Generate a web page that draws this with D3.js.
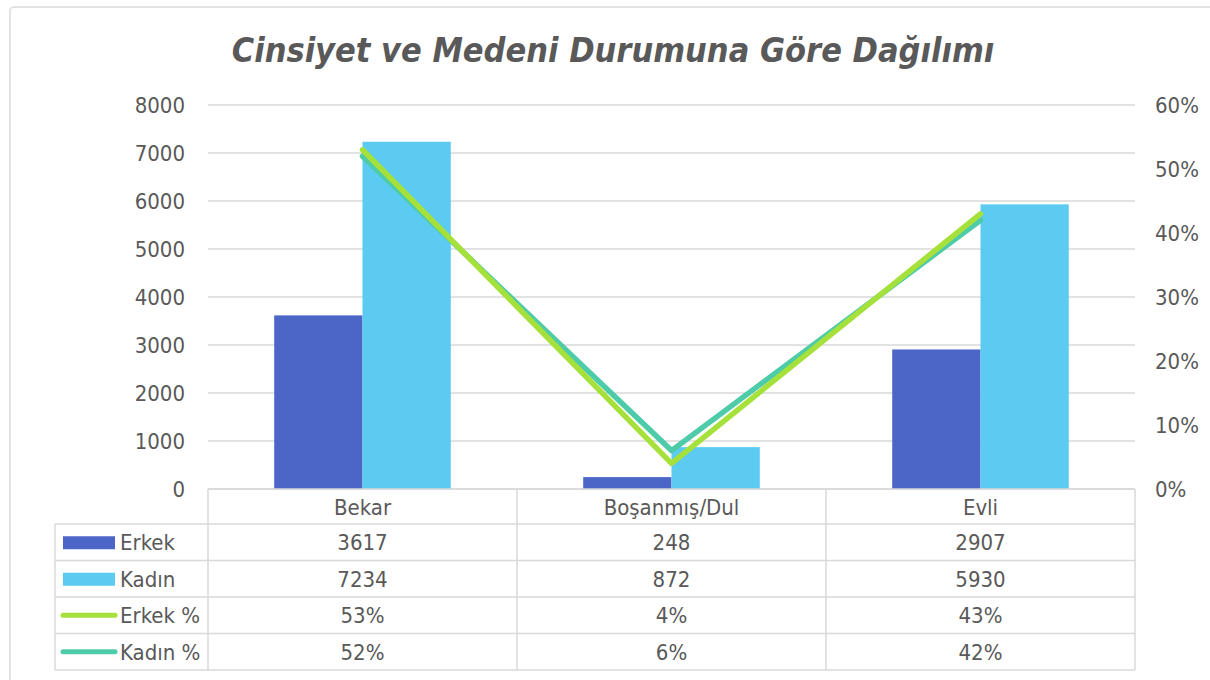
<!DOCTYPE html>
<html>
<head>
<meta charset="utf-8">
<script src="https://cdn.jsdelivr.net/npm/d3@7"></script>
<style>
  body { margin: 0; background: #fff; }
  text { font-family: "DejaVu Sans Condensed", "DejaVu Sans", sans-serif; fill: #595959; }
</style>
</head>
<body>
<div id="chart"></div>
<script>
// chart data
let categories = ['Bekar', 'Boşanmış/Dul', 'Evli'];
let erkek = [3617, 248, 2907];
let kadin = [7234, 872, 5930];
let erkekPct = [0.53, 0.04, 0.43];
let kadinPct = [0.52, 0.06, 0.42];
let countTicks = [0, 1000, 2000, 3000, 4000, 5000, 6000, 7000, 8000];
let pctTicks = [0, 0.1, 0.2, 0.3, 0.4, 0.5, 0.6];
let seriesNames = ['Erkek', 'Kadın', 'Erkek %', 'Kadın %'];

let colors = {'Erkek': '#4c66c8', 'Kadın': '#5bcbf1', 'Erkek %': '#a6e03a', 'Kadın %': '#4ecba8'};

let W = 1210, H = 680;
let margin = {top: 105, right: 75, bottom: 191, left: 208};
let width = W - margin.left - margin.right;
let height = H - margin.top - margin.bottom;
let fontSize = '22px';

let svg = d3.select('#chart')
            .append('svg')
            .attr('width', W)
            .attr('height', H);

// outer frame
svg.append('rect')
    .attr('x', 10).attr('y', 7)
    .attr('width', W + 20).attr('height', H + 20)
    .attr('rx', 4)
    .attr('fill', 'none')
    .attr('stroke', '#e3e3e3')
    .attr('stroke-width', 2);

// title
svg.append('text')
    .attr('x', 613)
    .attr('y', 62)
    .style('text-anchor', 'middle')
    .style('font-size', '34px')
    .style('font-weight', 'bold')
    .style('font-style', 'italic')
    .text('Cinsiyet ve Medeni Durumuna Göre Dağılımı');

let g = svg.append('g')
           .attr('transform', 'translate(' + margin.left + ',' + margin.top + ')');

// scales
let x = d3.scaleBand().domain(categories).range([0, width]);
let xInner = d3.scaleBand().domain(['Erkek', 'Kadın'])
               .range([0, x.bandwidth()]).paddingOuter(0.75).paddingInner(0);
let y = d3.scaleLinear().domain([0, 8000]).range([height, 0]);
let yPct = d3.scaleLinear().domain([0, 0.6]).range([height, 0]);

// gridlines
g.append('g')
    .selectAll('line')
    .data(countTicks)
    .enter()
    .append('line')
    .attr('x1', 0).attr('x2', width)
    .attr('y1', d => y(d)).attr('y2', d => y(d))
    .attr('stroke', '#d9d9d9')
    .attr('stroke-width', 1.5);

// left axis
let leftAxis = g.append('g')
    .attr('class', 'axis y-axis')
    .call(d3.axisLeft(y).tickValues(countTicks).tickFormat(d3.format('d')).tickSize(0).tickPadding(23));
leftAxis.select('.domain').remove();
leftAxis.selectAll('text').style('font-size', fontSize).style('fill', '#595959')
    .style('font-family', '"DejaVu Sans Condensed", sans-serif');

// right axis
let rightAxis = g.append('g')
    .attr('class', 'axis y-axis-right')
    .attr('transform', 'translate(' + width + ',0)')
    .call(d3.axisRight(yPct).tickValues(pctTicks).tickFormat(d3.format('.0%')).tickSize(0).tickPadding(20));
rightAxis.select('.domain').remove();
rightAxis.selectAll('text').style('font-size', fontSize).style('fill', '#595959')
    .style('font-family', '"DejaVu Sans Condensed", sans-serif');

// bars
let barData = [];
categories.forEach((c, i) => {
    barData.push({cat: c, key: 'Erkek', value: erkek[i]});
    barData.push({cat: c, key: 'Kadın', value: kadin[i]});
});

g.selectAll('.bar')
    .data(barData)
    .enter()
    .append('rect')
    .attr('class', 'bar')
    .attr('x', d => x(d.cat) + xInner(d.key))
    .attr('y', d => y(d.value))
    .attr('width', xInner.bandwidth())
    .attr('height', d => height - y(d.value))
    .attr('fill', d => colors[d.key]);

// percentage lines
let line = d3.line()
    .x((d, i) => x(categories[i]) + x.bandwidth() / 2)
    .y(d => yPct(d));

[['Kadın %', kadinPct], ['Erkek %', erkekPct]].forEach(s => {
    g.append('path')
        .datum(s[1])
        .attr('fill', 'none')
        .attr('stroke', colors[s[0]])
        .attr('stroke-width', 5.5)
        .attr('stroke-linejoin', 'round')
        .attr('stroke-linecap', 'round')
        .attr('d', line);
});

// data table under the chart
let headerH = 35, rowH = 36.5;
let tableLeft = 55 - margin.left;
let tbl = g.append('g').attr('transform', 'translate(0,' + height + ')');
let gridColor = '#d9d9d9';

// header row
tbl.append('line').attr('x1', 0).attr('x2', width).attr('y1', 0).attr('y2', 0)
    .attr('stroke', gridColor).attr('stroke-width', 1.5);
tbl.selectAll('.head')
    .data(categories)
    .enter()
    .append('text')
    .attr('class', 'head')
    .attr('x', d => x(d) + x.bandwidth() / 2)
    .attr('y', headerH / 2 + 8)
    .style('text-anchor', 'middle')
    .style('font-size', fontSize)
    .text(d => d);

// horizontal lines
let rowTops = d3.range(seriesNames.length + 1).map(i => headerH + i * rowH);
tbl.selectAll('.hline')
    .data(rowTops)
    .enter()
    .append('line')
    .attr('x1', tableLeft).attr('x2', width)
    .attr('y1', d => d).attr('y2', d => d)
    .attr('stroke', gridColor).attr('stroke-width', 1.5);

// vertical lines
let tableBottom = rowTops[rowTops.length - 1];
[0, x('Boşanmış/Dul'), x('Evli'), width].forEach(v => {
    tbl.append('line').attr('x1', v).attr('x2', v).attr('y1', 0).attr('y2', tableBottom)
        .attr('stroke', gridColor).attr('stroke-width', 1.5);
});
tbl.append('line').attr('x1', tableLeft).attr('x2', tableLeft)
    .attr('y1', headerH).attr('y2', tableBottom)
    .attr('stroke', gridColor).attr('stroke-width', 1.5);

let tableValues = [erkek, kadin, erkekPct.map(d3.format('.0%')), kadinPct.map(d3.format('.0%'))];

seriesNames.forEach((name, r) => {
    let cy = headerH + r * rowH + rowH / 2;
    let keyX = 63 - margin.left;
    if (r < 2) {
        tbl.append('rect')
            .attr('x', keyX).attr('y', cy - 6)
            .attr('width', 52).attr('height', 13)
            .attr('fill', colors[name]);
    } else {
        tbl.append('line')
            .attr('x1', keyX).attr('x2', keyX + 52)
            .attr('y1', cy).attr('y2', cy)
            .attr('stroke', colors[name])
            .attr('stroke-width', 5)
            .attr('stroke-linecap', 'round');
    }
    tbl.append('text')
        .attr('x', keyX + 57)
        .attr('y', cy + 8)
        .style('font-size', fontSize)
        .text(name);

    tbl.selectAll('.v' + r)
        .data(tableValues[r])
        .enter()
        .append('text')
        .attr('x', (d, i) => x(categories[i]) + x.bandwidth() / 2)
        .attr('y', cy + 8)
        .style('text-anchor', 'middle')
        .style('font-size', fontSize)
        .text(d => d);
});
</script>
</body>
</html>
